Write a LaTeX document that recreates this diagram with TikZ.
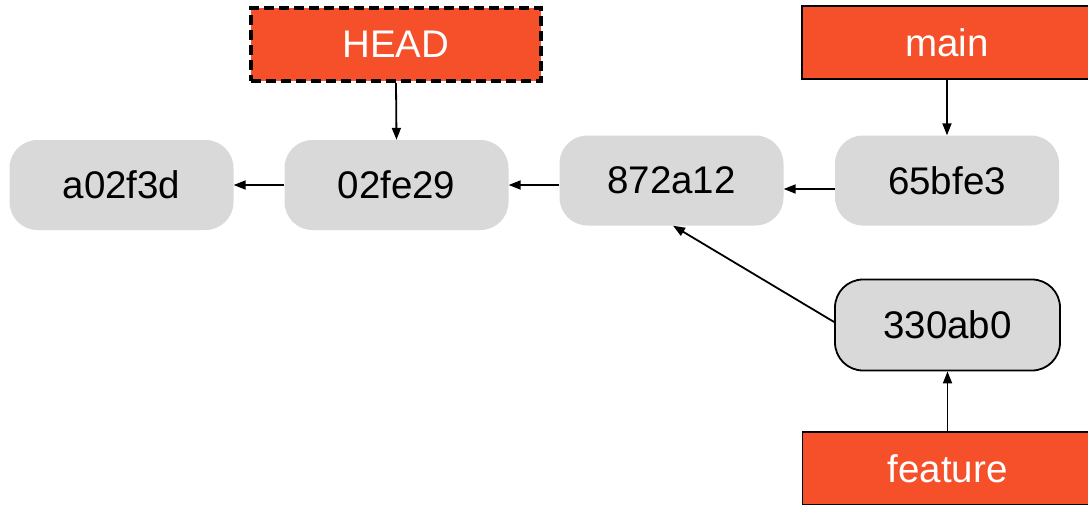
\documentclass[tikz,border=0pt]{standalone}
\usepackage{fontspec}
\setmainfont{Liberation Sans}
\usetikzlibrary{arrows.meta}
\definecolor{branchred}{RGB}{245,80,42}
\definecolor{commitgray}{RGB}{217,217,217}
\begin{document}
\begin{tikzpicture}[x=1pt,y=-1pt,
  commit/.style={fill=commitgray, rounded corners=28pt, minimum width=224pt, minimum height=90pt, inner sep=0pt,
    font=\fontsize{38.5}{44}\selectfont, text=black},
  branch/.style={fill=branchred, draw=black, line width=1.5pt, minimum width=290pt, minimum height=73pt, inner sep=0pt,
    font=\fontsize{38.5}{44}\selectfont, text=white},
  conn/.style={line width=1.8pt, -{Triangle[length=12pt,width=9pt]}}
]
\useasboundingbox (0,0) rectangle (1088,504);
\clip (0,0) rectangle (1088,504);
\node[commit] (a02f3d) at (121.5,185) {a02f3d};
\node[commit] (02fe29) at (396.5,185) {02fe29};
\node[commit] (872a12) at (671.5,180.5) {872a12};
\node[commit] (65bfe3) at (947,180.5) {65bfe3};
\node[commit, draw=black, line width=1.8pt, minimum width=225pt, minimum height=91pt] (330ab0) at (947.5,325) {330ab0};
\node[branch, line width=4pt, dash pattern=on 10pt off 5pt] (HEAD) at (396,44.5) {HEAD};
\node[branch] (main) at (947,42.5) {main};
\node[branch] (feature) at (947.5,468.5) {feature};

\draw[conn] (02fe29.west) -- (a02f3d.east);
\draw[conn] ([yshift=-4.5pt]872a12.west) -- (02fe29.east);
\draw[conn] ([yshift=-8.5pt]65bfe3.west) -- ([yshift=-8.5pt]872a12.east);
\draw[conn] (HEAD.south) -- (02fe29.north);
\draw[conn] (main.south) -- (65bfe3.north);
\draw[conn] (feature.north) -- (330ab0.south);
\draw[conn] ([yshift=3pt]330ab0.west) -- ([xshift=1.5pt]872a12.south);
\end{tikzpicture}
\end{document}
